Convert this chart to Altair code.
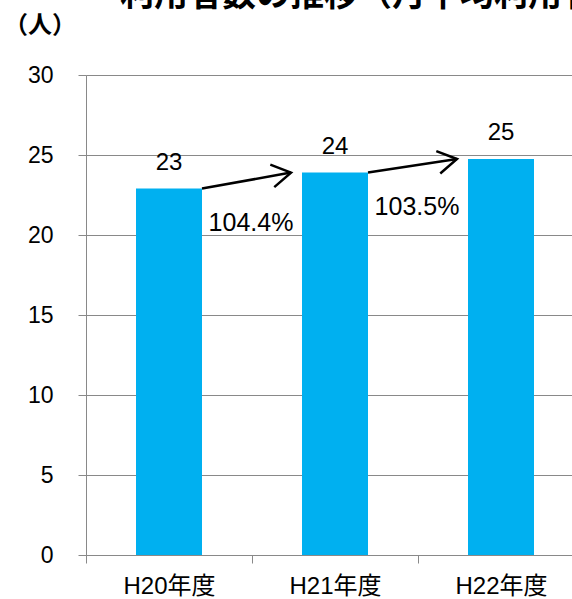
import altair as alt
import pandas as pd

categories = ["H20年度", "H21年度", "H22年度"]
values = [22.9, 23.9, 24.75]
value_labels = ["23", "24", "25"]
growth_labels = ["104.4%", "103.5%"]
title_text = "利用者数の推移（月平均利用者数）"
unit_text = "（人）"
y_ticks = [0, 5, 10, 15, 20, 25, 30]

bars_df = pd.DataFrame({"cat": categories, "v": values, "lab": value_labels})
arrows_df = pd.DataFrame({
    "c1": categories[:-1], "c2": categories[1:],
    "v1": values[:-1], "v2": values[1:], "g": growth_labels,
})

FONT = "Liberation Sans, Arial, Noto Sans CJK JP"
GRID = "#898989"

xscale = alt.Scale(domain=categories, range=[0, 498], paddingInner=0, paddingOuter=0)
yscale = alt.Scale(domain=[0, 30], nice=False)

x_axis = alt.Axis(title=None, tickBand="extent", tickSize=8, tickColor=GRID,
                  domainColor=GRID, labelFontSize=24, labelColor="black",
                  labelFont=FONT, labelPadding=11, labelAngle=0, grid=False)
y_axis = alt.Axis(title=None, values=y_ticks, tickSize=8, tickColor=GRID,
                  domainColor=GRID, gridColor=GRID, labelFontSize=23,
                  labelColor="black", labelFont=FONT, labelPadding=25)

base = alt.Chart(bars_df)

bars = base.mark_bar(size=66, color="#00B0F0").encode(
    x=alt.X("cat:N", scale=xscale, axis=x_axis, sort=categories),
    y=alt.Y("v:Q", scale=yscale, axis=y_axis),
)

vlabels = base.mark_text(dy=-26, fontSize=24, font=FONT, color="black").encode(
    x=alt.X("cat:N", scale=xscale, sort=categories),
    y=alt.Y("v:Q", scale=yscale),
    text="lab:N",
)

arrow_base = alt.Chart(arrows_df)
lines = arrow_base.mark_rule(xOffset=33, x2Offset=-44, strokeWidth=2.5, color="black").encode(
    x=alt.X("c1:N", scale=xscale, sort=categories),
    x2="c2:N",
    y=alt.Y("v1:Q", scale=yscale),
    y2="v2:Q",
)
heads = arrow_base.mark_point(shape="M-1,-0.6L0,0L-1,0.6", size=1444, filled=False,
                              strokeWidth=2.5, color="black", opacity=1,
                              xOffset=-44, angle=350).encode(
    x=alt.X("c2:N", scale=xscale, sort=categories),
    y=alt.Y("v2:Q", scale=yscale),
)
glabels = arrow_base.mark_text(dx=82, dy=34, fontSize=25, font=FONT, color="black").encode(
    x=alt.X("c1:N", scale=xscale, sort=categories),
    y=alt.Y("v1:Q", scale=yscale),
    text="g:N",
)

title_df = pd.DataFrame({"t": [title_text]})
title = alt.Chart(title_df).mark_text(align="left", baseline="alphabetic", fontSize=34,
                                      fontWeight="bold", font="Noto Sans CJK JP",
                                      color="black").encode(
    x=alt.value(34), y=alt.value(-69), text="t:N")

unit_df = pd.DataFrame({"t": [unit_text]})
unit = alt.Chart(unit_df).mark_text(align="center", baseline="middle", fontSize=24,
                                    fontWeight="bold", font="Noto Sans CJK JP",
                                    color="black").encode(
    x=alt.value(-46), y=alt.value(-49), text="t:N")

chart = alt.layer(bars, lines, heads, vlabels, glabels, title, unit).properties(
    width=486, height=480,
    padding={"left": 86, "top": 75, "right": 0, "bottom": 44},
    autosize=alt.AutoSizeParams(type="none"),
).configure_view(stroke=None).configure(background="white")

chart.save("out.html", embed_options={"renderer": "svg", "actions": False})
